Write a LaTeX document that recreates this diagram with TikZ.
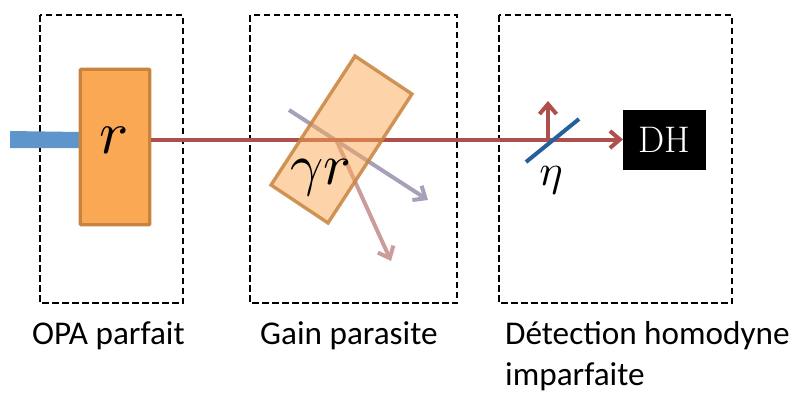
\documentclass[tikz,border=0pt]{standalone}
\usepackage{fontspec}
\DeclareFontFamily{OML}{cmm}{\skewchar\font127 }
\DeclareFontShape{OML}{cmm}{m}{it}{<->cmmi10}{}
\newfontfamily\labfont{Carlito}
\usetikzlibrary{arrows.meta}
\definecolor{beamred}{HTML}{AD4F4C}
\definecolor{orangefill}{HTML}{FBA855}
\definecolor{orangeline}{HTML}{C7843F}
\definecolor{bluebar}{HTML}{5E96CB}
\definecolor{graybeam}{HTML}{A8A0B8}
\definecolor{pinkbeam}{HTML}{CC9C9C}
\definecolor{bsblue}{HTML}{25609C}
\tikzset{
  x=1pt,y=-1pt,
  zone/.style={draw=black,line width=1.7pt,dash pattern=on 6.5pt off 3.5pt},
  tipped/.style={line width=4pt,-{Straight Barb[length=10pt,width=17pt,line width=4pt]}},
  lab/.style={font=\labfont\fontsize{33.2}{40}\selectfont,anchor=base west,inner sep=0pt,align=left},
  sym/.style={inner sep=0pt,text=black},
}
\begin{document}
\begin{tikzpicture}
\useasboundingbox (0,0) rectangle (795,392);
\draw[zone] (40,15) rectangle (183,303);
\draw[zone] (250,15) rectangle (457,303);
\draw[zone] (499,15) rectangle (732,303);
\fill[bluebar] (10,131) -- (80,132) -- (80,148) -- (10,148) -- cycle;
\node[draw=orangeline,fill=orangefill,line width=3.4pt,rounded corners=1pt,minimum width=69.5pt,minimum height=155.5pt,inner sep=0pt,anchor=north west] (opa) at (78.5,67.5) {};
\node[sym,font=\fontsize{61}{61}\selectfont] (rsym) at (114.5,140) {$r$};
\node[draw=black,fill=black,text=white,minimum width=82pt,minimum height=59pt,inner sep=0pt,font=\fontsize{37}{37}\selectfont,anchor=north west] (dh) at (623,110) {DH};
\coordinate (tA) at (355,56);
\coordinate (tB) at (412,94);
\coordinate (tC) at (328,223);
\coordinate (tD) at (271,185);
\coordinate (hit) at (336,139.5);
\coordinate (bs) at (548,139.5);
\coordinate (bsA) at (526,162);
\coordinate (bsB) at (579,119);
\coordinate (gs) at (289,110);
\coordinate (ge) at (428,200);
\coordinate (pe) at (391,261);
\coordinate (up) at (548,101);
\draw[tipped,draw=graybeam] (gs) -- (ge);
\draw[tipped,draw=pinkbeam] (hit) -- (pe);
\draw[tipped,draw=beamred] (opa.east |- hit) -- (dh.west |- hit);
\draw[tipped,draw=beamred] (bs) -- (up);
\draw[line width=4pt,draw=bsblue] (bsA) -- (bsB);
\fill[orangefill,opacity=0.5] (tA) -- (tB) -- (tC) -- (tD) -- cycle;
\draw[line width=3.4pt,draw=orangeline,opacity=0.85,line join=miter] (tA) -- (tB) -- (tC) -- (tD) -- cycle;
\node[sym,font=\fontsize{58}{58}\selectfont] (gr) at (321,178) {$\gamma r$};
\node[sym,font=\fontsize{44}{44}\selectfont] (eta) at (551,180) {$\eta$};
\node[lab] (l1) at (32,344) {OPA parfait};
\node[lab] (l2) at (260,344) {Gain parasite};
\node[lab] (l3) at (505,344) {Détection homodyne};
\node[lab] (l4) at (505,385) {imparfaite};
\end{tikzpicture}
\end{document}
